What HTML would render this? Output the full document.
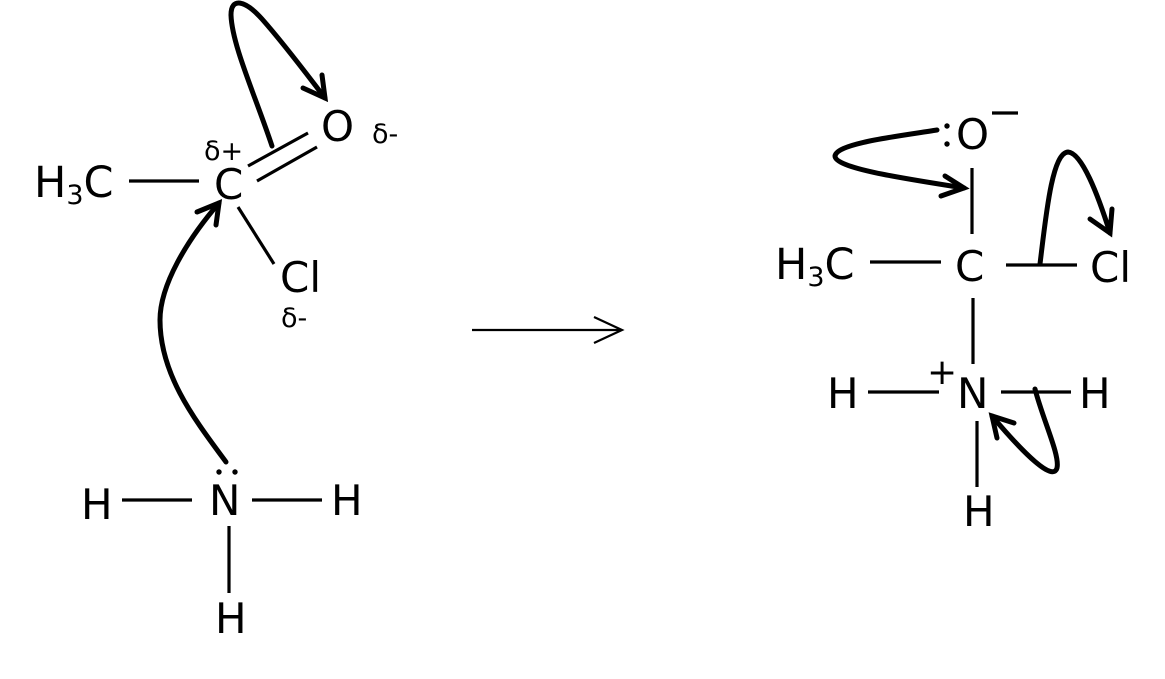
<!DOCTYPE html>
<html><head><meta charset="utf-8"><style>
html,body{margin:0;padding:0;background:#fff;width:1165px;height:679px;overflow:hidden}
svg{display:block}
text{font-family:"DejaVu Sans",sans-serif;fill:#000}
.l{font-size:42px}
.m{font-size:43px}
.s{font-size:27px}
.sub{font-size:27px}
</style></head><body>
<svg width="1165" height="679" viewBox="0 0 1165 679" xmlns="http://www.w3.org/2000/svg">
<g stroke="#000" stroke-width="3.2" fill="none" stroke-linecap="butt">
<path d="M129 181H199"/>
<path d="M248 166L308 133M257 181L317 147"/>
<path d="M238 207L274 264"/>
<path d="M122 500H192M252 500H322M229 526V593"/>
<path d="M870 262H941M1006 265H1077"/>
<path d="M972 168V234M973 298V364M977 421V487"/>
<path d="M868 392H939M1001 392H1071"/>
<path d="M472 330H620M594 317L622 330L594 343" stroke-width="2.2"/>
</g>
<g stroke="#000" stroke-width="5" fill="none" stroke-linecap="round" stroke-linejoin="miter">
<path d="M272 146C255 95 232 45 231 15C231 -3 245 0 262 19C285 45 305 72 325 98"/>
<path d="M303 88L325 98L322 75"/>
<path d="M226 462C195 420 160 375 160 320C160 285 187 240 219 203"/>
<path d="M197 212L219 203L216 225"/>
<path d="M937 130C900 136 837 143 835 156C835 168 900 178 964 188"/>
<path d="M945 176L964 188L941 196"/>
<path d="M1040 264C1046 215 1052 153 1068 152C1082 153 1098 195 1110 233"/>
<path d="M1090 219L1110 233L1112 209"/>
<path d="M1035 389C1043 420 1060 455 1057 468C1053 482 1025 455 992 416"/>
<path d="M1014 423L992 416L997 438"/>
</g>
<text class="m" x="34" y="197">H<tspan class="sub" dy="7">3</tspan><tspan dy="-7">C</tspan></text>
<text class="l" x="214" y="199">C</text>
<text class="l" x="321" y="141">O</text>
<text class="l" x="280" y="292">Cl</text>
<text class="s" x="204" y="160">δ+</text>
<text class="s" x="372" y="143">δ-</text>
<text class="s" x="281" y="327">δ-</text>
<text class="l" x="81" y="519">H</text>
<text class="l" x="209" y="515">N</text>
<text class="l" x="331" y="515">H</text>
<text class="l" x="215" y="633">H</text>
<circle cx="219" cy="472" r="2.7"/><circle cx="235" cy="472" r="2.7"/>
<text class="m" x="775" y="279">H<tspan class="sub" dy="7">3</tspan><tspan dy="-7">C</tspan></text>
<text class="l" x="955" y="281">C</text>
<text class="l" x="1090" y="282">Cl</text>
<text class="l" x="956" y="149">O</text>
<circle cx="947" cy="126" r="2.7"/><circle cx="947" cy="144" r="2.7"/>
<path d="M992 113H1018" stroke="#000" stroke-width="3.2"/>
<text class="l" x="827" y="408">H</text>
<text class="l" x="957" y="408">N</text>
<text class="l" x="1079" y="408">H</text>
<text class="l" x="963" y="526">H</text>
<text x="927" y="384" style="font-size:36px">+</text>
</svg>
</body></html>
